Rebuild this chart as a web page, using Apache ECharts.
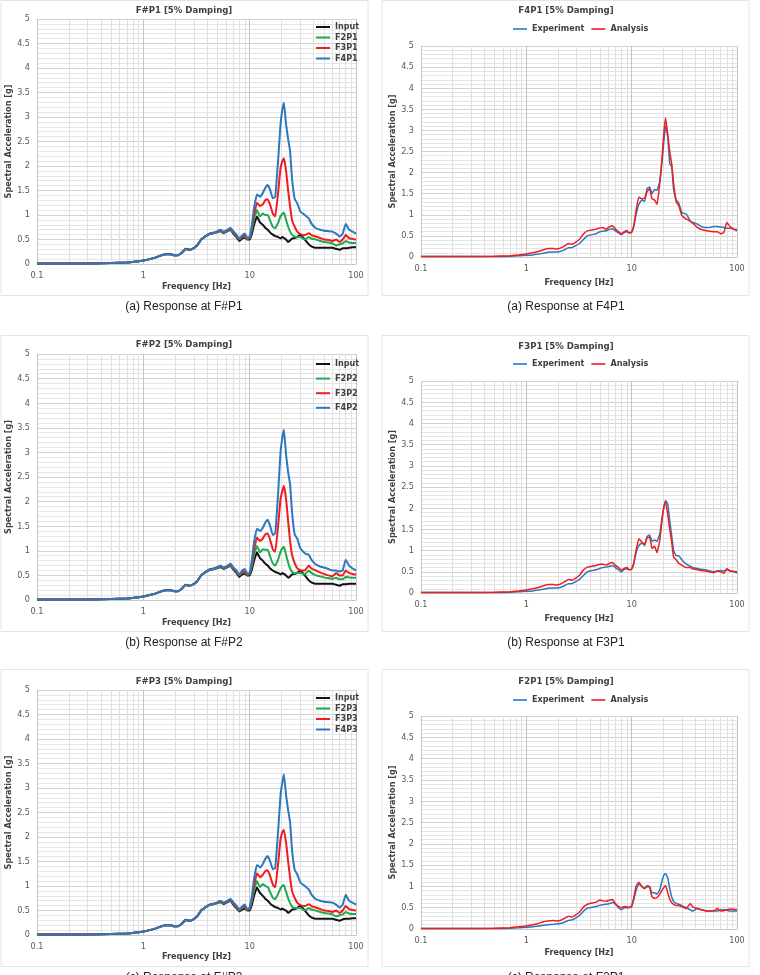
<!DOCTYPE html>
<html><head><meta charset="utf-8">
<script src="https://cdn.jsdelivr.net/npm/echarts@6/dist/echarts.min.js"></script>
<style>html,body{margin:0;padding:0;background:#fff}#c{width:760px;height:975px}</style>
</head><body><div id="c"></div>
<script>
// ---------- DATA ----------
const FREQ = [
  0.1, 0.2, 0.3, 0.5, 0.7, 0.85, 1.0, 1.15, 1.3, 1.45,
  1.6, 1.8, 1.95, 2.1, 2.3, 2.5, 2.7, 2.9, 3.2, 3.5,
  3.8, 4.2, 4.6, 5.0, 5.3, 5.7, 6.2, 6.6, 7.0, 7.5,
  8.0, 8.5, 9.0, 9.5, 10, 10.5, 11, 11.7, 12.5, 13.3,
  14, 14.8, 15.6, 16.5, 17.4, 18.5, 19.5, 20.3, 21, 22,
  23, 24, 25, 26.5, 28, 30, 33, 36, 38, 42,
  46, 50, 55, 60, 65, 70, 75, 80, 86, 93,
  100];
const MINOR_FREQ = [0.2,0.3,0.4,0.5,0.6,0.7,0.8,0.9,2,3,4,5,6,7,8,9,20,30,40,50,60,70,80,90];
const X_TICKS = ['0.1', '1', '10', '100'];

// F#P1
const P1_INPUT = [
  0.01, 0.01, 0.01, 0.02, 0.03, 0.05, 0.07, 0.1, 0.13, 0.17,
  0.2, 0.2, 0.18, 0.18, 0.23, 0.31, 0.29, 0.31, 0.38, 0.5,
  0.56, 0.61, 0.63, 0.65, 0.67, 0.63, 0.67, 0.7, 0.62, 0.55,
  0.47, 0.52, 0.54, 0.5, 0.5, 0.62, 0.8, 0.97, 0.85, 0.8,
  0.74, 0.7, 0.64, 0.6, 0.57, 0.55, 0.52, 0.55, 0.53, 0.5,
  0.45, 0.48, 0.52, 0.53, 0.55, 0.6, 0.5, 0.4, 0.36, 0.33,
  0.33, 0.33, 0.33, 0.33, 0.31, 0.29, 0.32, 0.32, 0.33, 0.34,
  0.34];
const P1_F2 = [
  0.01, 0.01, 0.01, 0.02, 0.03, 0.05, 0.07, 0.1, 0.13, 0.17,
  0.2, 0.2, 0.18, 0.18, 0.23, 0.31, 0.29, 0.31, 0.38, 0.5,
  0.56, 0.62, 0.63, 0.65, 0.68, 0.64, 0.68, 0.71, 0.64, 0.57,
  0.5, 0.55, 0.57, 0.51, 0.53, 0.7, 0.92, 1.1, 0.97, 1.03,
  1.0, 1.0, 0.88, 0.76, 0.73, 0.84, 0.97, 1.02, 1.05, 0.9,
  0.76, 0.66, 0.6, 0.56, 0.55, 0.55, 0.5, 0.55, 0.52, 0.5,
  0.47, 0.45, 0.44, 0.42, 0.38, 0.4, 0.42, 0.47, 0.44, 0.43,
  0.43];
const P1_F3 = [
  0.01, 0.01, 0.01, 0.02, 0.03, 0.05, 0.07, 0.1, 0.13, 0.17,
  0.2, 0.2, 0.18, 0.18, 0.23, 0.31, 0.29, 0.31, 0.38, 0.5,
  0.56, 0.62, 0.64, 0.66, 0.69, 0.65, 0.69, 0.72, 0.65, 0.58,
  0.51, 0.56, 0.58, 0.52, 0.54, 0.75, 1.0, 1.25, 1.18, 1.22,
  1.3, 1.32, 1.2, 1.03, 0.97, 1.45, 1.95, 2.1, 2.16, 1.9,
  1.5, 1.17, 0.9, 0.76, 0.66, 0.61, 0.59, 0.63, 0.59, 0.56,
  0.53, 0.5, 0.49, 0.47, 0.5, 0.45, 0.5, 0.59, 0.53, 0.51,
  0.5];
const P1_F4 = [
  0.01, 0.01, 0.01, 0.02, 0.03, 0.05, 0.07, 0.1, 0.13, 0.17,
  0.2, 0.2, 0.18, 0.18, 0.23, 0.31, 0.29, 0.31, 0.38, 0.5,
  0.56, 0.62, 0.64, 0.67, 0.7, 0.66, 0.7, 0.74, 0.67, 0.6,
  0.52, 0.58, 0.62, 0.53, 0.56, 0.8, 1.15, 1.42, 1.37, 1.45,
  1.55, 1.61, 1.51, 1.34, 1.37, 2.1, 2.85, 3.15, 3.29, 2.85,
  2.55, 2.3, 1.75, 1.33, 1.24, 1.07, 1.0, 0.93, 0.83, 0.73,
  0.7, 0.68, 0.67, 0.66, 0.62, 0.56, 0.62, 0.82, 0.7, 0.66,
  0.62];

// F#P2
const P2_INPUT = [
  0.01, 0.01, 0.01, 0.02, 0.03, 0.05, 0.07, 0.1, 0.13, 0.17,
  0.2, 0.2, 0.18, 0.18, 0.23, 0.31, 0.29, 0.31, 0.38, 0.5,
  0.56, 0.61, 0.63, 0.65, 0.67, 0.63, 0.67, 0.7, 0.62, 0.55,
  0.47, 0.52, 0.54, 0.5, 0.5, 0.62, 0.8, 0.97, 0.85, 0.8,
  0.74, 0.7, 0.64, 0.6, 0.57, 0.55, 0.52, 0.55, 0.53, 0.5,
  0.45, 0.48, 0.52, 0.53, 0.55, 0.6, 0.5, 0.4, 0.36, 0.33,
  0.33, 0.33, 0.33, 0.33, 0.31, 0.29, 0.32, 0.32, 0.33, 0.33,
  0.33];
const P2_F2 = [
  0.01, 0.01, 0.01, 0.02, 0.03, 0.05, 0.07, 0.1, 0.13, 0.17,
  0.2, 0.2, 0.18, 0.18, 0.23, 0.31, 0.29, 0.31, 0.38, 0.5,
  0.56, 0.62, 0.63, 0.65, 0.68, 0.64, 0.68, 0.71, 0.64, 0.57,
  0.5, 0.55, 0.57, 0.51, 0.53, 0.7, 0.92, 1.1, 0.97, 1.03,
  1.02, 1.02, 0.88, 0.74, 0.7, 0.82, 0.98, 1.05, 1.08, 0.92,
  0.76, 0.64, 0.58, 0.54, 0.55, 0.55, 0.52, 0.6, 0.55, 0.5,
  0.48, 0.46, 0.44, 0.43, 0.45, 0.42, 0.42, 0.47, 0.46, 0.45,
  0.45];
const P2_F3 = [
  0.01, 0.01, 0.01, 0.02, 0.03, 0.05, 0.07, 0.1, 0.13, 0.17,
  0.2, 0.2, 0.18, 0.18, 0.23, 0.31, 0.29, 0.31, 0.38, 0.5,
  0.56, 0.62, 0.64, 0.66, 0.69, 0.65, 0.69, 0.72, 0.65, 0.58,
  0.51, 0.56, 0.58, 0.52, 0.54, 0.75, 1.02, 1.27, 1.2, 1.25,
  1.33, 1.35, 1.22, 1.03, 0.98, 1.5, 2.05, 2.22, 2.32, 2.05,
  1.6, 1.2, 0.92, 0.75, 0.65, 0.6, 0.6, 0.7, 0.64, 0.6,
  0.56, 0.53, 0.5, 0.48, 0.55, 0.5, 0.5, 0.6, 0.55, 0.53,
  0.52];
const P2_F4 = [
  0.01, 0.01, 0.01, 0.02, 0.03, 0.05, 0.07, 0.1, 0.13, 0.17,
  0.2, 0.2, 0.18, 0.18, 0.23, 0.31, 0.29, 0.31, 0.38, 0.5,
  0.56, 0.62, 0.64, 0.67, 0.7, 0.66, 0.7, 0.74, 0.67, 0.6,
  0.52, 0.6, 0.63, 0.53, 0.56, 0.82, 1.18, 1.45, 1.4, 1.47,
  1.57, 1.63, 1.5, 1.32, 1.36, 2.15, 3.0, 3.3, 3.46, 2.95,
  2.6, 2.35, 1.8, 1.33, 1.25, 1.05, 0.95, 0.92, 0.82, 0.72,
  0.68, 0.66, 0.63, 0.6, 0.6, 0.58, 0.6, 0.82, 0.7, 0.64,
  0.6];

// F#P3
const P3_INPUT = [
  0.01, 0.01, 0.01, 0.02, 0.03, 0.05, 0.07, 0.1, 0.13, 0.17,
  0.2, 0.2, 0.18, 0.18, 0.23, 0.31, 0.29, 0.31, 0.38, 0.5,
  0.56, 0.61, 0.63, 0.65, 0.67, 0.63, 0.67, 0.7, 0.62, 0.55,
  0.48, 0.52, 0.54, 0.5, 0.5, 0.62, 0.8, 0.97, 0.86, 0.8,
  0.74, 0.7, 0.64, 0.6, 0.57, 0.55, 0.52, 0.54, 0.52, 0.5,
  0.45, 0.48, 0.52, 0.53, 0.55, 0.6, 0.5, 0.4, 0.36, 0.33,
  0.33, 0.33, 0.33, 0.33, 0.31, 0.29, 0.32, 0.33, 0.33, 0.34,
  0.34];
const P3_F2 = [
  0.01, 0.01, 0.01, 0.02, 0.03, 0.05, 0.07, 0.1, 0.13, 0.17,
  0.2, 0.2, 0.18, 0.18, 0.23, 0.31, 0.29, 0.31, 0.38, 0.5,
  0.56, 0.62, 0.63, 0.65, 0.68, 0.64, 0.68, 0.71, 0.64, 0.57,
  0.5, 0.55, 0.57, 0.51, 0.53, 0.7, 0.92, 1.1, 0.98, 1.04,
  1.0, 0.98, 0.87, 0.76, 0.73, 0.84, 0.95, 1.0, 1.02, 0.88,
  0.75, 0.65, 0.58, 0.55, 0.55, 0.55, 0.5, 0.55, 0.52, 0.5,
  0.47, 0.45, 0.44, 0.42, 0.38, 0.4, 0.42, 0.47, 0.44, 0.43,
  0.43];
const P3_F3 = [
  0.01, 0.01, 0.01, 0.02, 0.03, 0.05, 0.07, 0.1, 0.13, 0.17,
  0.2, 0.2, 0.18, 0.18, 0.23, 0.31, 0.29, 0.31, 0.38, 0.5,
  0.56, 0.62, 0.64, 0.66, 0.69, 0.65, 0.69, 0.72, 0.65, 0.58,
  0.51, 0.56, 0.58, 0.52, 0.54, 0.75, 1.0, 1.26, 1.18, 1.23,
  1.3, 1.32, 1.2, 1.03, 0.97, 1.45, 1.95, 2.1, 2.15, 1.88,
  1.5, 1.17, 0.9, 0.76, 0.66, 0.61, 0.59, 0.63, 0.59, 0.56,
  0.53, 0.5, 0.49, 0.47, 0.5, 0.45, 0.5, 0.59, 0.53, 0.51,
  0.5];
const P3_F4 = [
  0.01, 0.01, 0.01, 0.02, 0.03, 0.05, 0.07, 0.1, 0.13, 0.17,
  0.2, 0.2, 0.18, 0.18, 0.23, 0.31, 0.29, 0.31, 0.38, 0.5,
  0.56, 0.62, 0.64, 0.67, 0.7, 0.66, 0.7, 0.74, 0.67, 0.6,
  0.52, 0.58, 0.62, 0.53, 0.56, 0.8, 1.15, 1.43, 1.38, 1.45,
  1.55, 1.61, 1.5, 1.34, 1.37, 2.1, 2.85, 3.12, 3.28, 2.85,
  2.55, 2.3, 1.75, 1.33, 1.24, 1.07, 1.0, 0.93, 0.83, 0.73,
  0.7, 0.68, 0.67, 0.66, 0.62, 0.56, 0.62, 0.82, 0.7, 0.66,
  0.62];

// F4P1 comparison
const R1_EXP = [
  0.01, 0.01, 0.01, 0.01, 0.02, 0.03, 0.04, 0.05, 0.07, 0.09,
  0.11, 0.12, 0.12, 0.13, 0.17, 0.22, 0.22, 0.26, 0.32, 0.42,
  0.5, 0.53, 0.55, 0.6, 0.61, 0.62, 0.66, 0.67, 0.62, 0.57,
  0.53, 0.58, 0.6, 0.57, 0.6, 0.75, 1.0, 1.25, 1.35, 1.32,
  1.62, 1.66, 1.5, 1.6, 1.58, 1.8, 2.3, 2.8, 3.1, 2.85,
  2.2, 2.15, 1.6, 1.35, 1.28, 1.05, 1.02, 0.85, 0.82, 0.78,
  0.72, 0.7, 0.7, 0.72, 0.72, 0.71, 0.7, 0.68, 0.68, 0.66,
  0.65];
const R1_ANA = [
  0.01, 0.01, 0.01, 0.02, 0.03, 0.05, 0.07, 0.1, 0.13, 0.17,
  0.2, 0.2, 0.19, 0.21, 0.26, 0.32, 0.3, 0.34, 0.42, 0.55,
  0.62, 0.64, 0.66, 0.69, 0.7, 0.66, 0.72, 0.74, 0.67, 0.6,
  0.55, 0.6, 0.63, 0.57, 0.58, 0.75, 1.1, 1.42, 1.38, 1.4,
  1.55, 1.62, 1.38, 1.35, 1.25, 1.75, 2.4, 3.0, 3.3, 2.9,
  2.5, 2.2, 1.75, 1.3, 1.22, 0.98, 0.9, 0.85, 0.8, 0.7,
  0.65, 0.63, 0.61, 0.6, 0.6, 0.55, 0.58, 0.82, 0.72, 0.66,
  0.62];

// F3P1 comparison
const R2_EXP = [
  0.01, 0.01, 0.01, 0.01, 0.02, 0.03, 0.04, 0.05, 0.07, 0.09,
  0.11, 0.12, 0.12, 0.13, 0.17, 0.22, 0.22, 0.26, 0.32, 0.42,
  0.5, 0.53, 0.55, 0.58, 0.6, 0.61, 0.63, 0.65, 0.6, 0.55,
  0.5, 0.56, 0.57, 0.55, 0.57, 0.7, 0.95, 1.12, 1.18, 1.12,
  1.33, 1.37, 1.22, 1.25, 1.22, 1.4, 1.8, 2.05, 2.18, 2.1,
  1.7, 1.35, 1.0, 0.88, 0.88, 0.78, 0.68, 0.63, 0.6, 0.58,
  0.56, 0.55, 0.52, 0.5, 0.52, 0.53, 0.52, 0.55, 0.52, 0.5,
  0.47];
const R2_ANA = [
  0.01, 0.01, 0.01, 0.02, 0.03, 0.05, 0.07, 0.1, 0.13, 0.17,
  0.2, 0.2, 0.19, 0.21, 0.26, 0.32, 0.3, 0.34, 0.42, 0.55,
  0.61, 0.63, 0.65, 0.68, 0.68, 0.66, 0.7, 0.72, 0.65, 0.6,
  0.54, 0.58, 0.6, 0.55, 0.56, 0.72, 1.0, 1.28, 1.2, 1.15,
  1.3, 1.32, 1.05, 1.1, 0.95, 1.25, 1.75, 2.05, 2.15, 1.85,
  1.5, 1.2, 0.85, 0.78, 0.7, 0.65, 0.6, 0.6, 0.57, 0.55,
  0.53, 0.52, 0.5, 0.48, 0.52, 0.5, 0.46, 0.58, 0.52, 0.51,
  0.5];

// F2P1 comparison
const R3_EXP = [
  0.01, 0.01, 0.01, 0.01, 0.02, 0.03, 0.04, 0.05, 0.07, 0.09,
  0.1, 0.11, 0.12, 0.13, 0.16, 0.2, 0.21, 0.25, 0.32, 0.42,
  0.49, 0.51, 0.53, 0.56, 0.57, 0.58, 0.6, 0.62, 0.58, 0.5,
  0.45, 0.5, 0.5, 0.5, 0.52, 0.7, 0.9, 1.05, 1.0, 0.95,
  1.02, 1.0, 0.85, 0.85, 0.82, 0.92, 1.15, 1.27, 1.3, 1.2,
  0.95, 0.75, 0.65, 0.6, 0.58, 0.55, 0.5, 0.45, 0.42, 0.48,
  0.45, 0.43, 0.42, 0.42, 0.42, 0.45, 0.45, 0.44, 0.42, 0.42,
  0.42];
const R3_ANA = [
  0.01, 0.01, 0.01, 0.02, 0.03, 0.05, 0.07, 0.1, 0.13, 0.17,
  0.19, 0.2, 0.19, 0.2, 0.25, 0.3, 0.28, 0.32, 0.4, 0.52,
  0.58, 0.61, 0.63, 0.68, 0.66, 0.65, 0.68, 0.69, 0.6, 0.53,
  0.5, 0.53, 0.52, 0.51, 0.55, 0.75, 1.0, 1.1, 1.0, 0.95,
  1.0, 0.98, 0.75, 0.72, 0.74, 0.82, 0.92, 0.98, 1.02, 0.85,
  0.7, 0.62, 0.58, 0.55, 0.55, 0.52, 0.48, 0.6, 0.52, 0.48,
  0.45, 0.43, 0.42, 0.42, 0.48, 0.42, 0.43, 0.45, 0.47, 0.46,
  0.45];

// ---------- LAYOUT / STYLE ----------
const FONT = '"Liberation Sans Narrow", "DejaVu Sans Condensed", "Open Sans", sans-serif';
const CAP_FONT = '"Liberation Sans", Arial, sans-serif';
const C_BLUE = '#2a78bf', C_RED = '#f21c1c', C_GREEN = '#1faa4f', C_BLACK = '#111111';

const panels = [
  { grid: {left: 37, top: 19, width: 319, height: 245}, box: [1, 0.5, 367, 295],
    title: 'F#P1 [5% Damping]', tx: 184, ty: 11, caption: '(a) Response at F#P1', cy: 307,
    xGap: 18, yGap: 19, lw: 2,
    legend: {orient: 'vertical', left: 316, top: 22.5, itemGap: 1.5, itemHeight: 2},
    series: [['Input', P1_INPUT, C_BLACK], ['F2P1', P1_F2, C_GREEN], ['F3P1', P1_F3, C_RED], ['F4P1', P1_F4, C_BLUE]] },
  { grid: {left: 37, top: 354, width: 319, height: 246}, box: [1, 335.5, 367, 296],
    title: 'F#P2 [5% Damping]', tx: 184, ty: 345, caption: '(b) Response at F#P2', cy: 643,
    xGap: 18, yGap: 19, lw: 2,
    legend: {orient: 'vertical', left: 316, top: 359.5, itemGap: 5.6, itemHeight: 2},
    series: [['Input', P2_INPUT, C_BLACK], ['F2P2', P2_F2, C_GREEN], ['F3P2', P2_F3, C_RED], ['F4P2', P2_F4, C_BLUE]] },
  { grid: {left: 37, top: 690, width: 319, height: 245}, box: [1, 669.5, 367, 297],
    title: 'F#P3 [5% Damping]', tx: 184, ty: 682, caption: '(c) Response at F#P3', cy: 978,
    xGap: 17, yGap: 19, lw: 2,
    legend: {orient: 'vertical', left: 316, top: 693.5, itemGap: 1.5, itemHeight: 2},
    series: [['Input', P3_INPUT, C_BLACK], ['F2P3', P3_F2, C_GREEN], ['F3P3', P3_F3, C_RED], ['F4P3', P3_F4, C_BLUE]] },
  { grid: {left: 421, top: 46, width: 316, height: 211}, box: [382, 0.5, 367, 295],
    title: 'F4P1 [5% Damping]', tx: 566, ty: 11, caption: '(a) Response at F4P1', cy: 307,
    xGap: 21, yGap: 22, lw: 1.5,
    legend: {orient: 'horizontal', left: 513, top: 24.5, itemGap: 7, itemHeight: 1.6},
    series: [['Experiment', R1_EXP, C_BLUE], ['Analysis', R1_ANA, C_RED]] },
  { grid: {left: 421, top: 381, width: 316, height: 212}, box: [382, 335.5, 367, 296],
    title: 'F3P1 [5% Damping]', tx: 566, ty: 347, caption: '(b) Response at F3P1', cy: 643,
    xGap: 21, yGap: 22, lw: 1.5,
    legend: {orient: 'horizontal', left: 513, top: 359.5, itemGap: 7, itemHeight: 1.6},
    series: [['Experiment', R2_EXP, C_BLUE], ['Analysis', R2_ANA, C_RED]] },
  { grid: {left: 421, top: 716, width: 316, height: 213}, box: [382, 669.5, 367, 297],
    title: 'F2P1 [5% Damping]', tx: 566, ty: 682, caption: '(c) Response at F2P1', cy: 978,
    xGap: 19, yGap: 22, lw: 1.5,
    legend: {orient: 'horizontal', left: 513, top: 695.5, itemGap: 7, itemHeight: 1.6},
    series: [['Experiment', R3_EXP, C_BLUE], ['Analysis', R3_ANA, C_RED]] }
];

const option = {
  animation: false,
  backgroundColor: '#ffffff',
  grid: [], xAxis: [], yAxis: [], series: [], legend: [], graphic: []
};

function txt(x, y, text, font, size, weight, color) {
  return { type: 'text', x: x, y: y, silent: true, z: 10,
    style: { text: text, fontFamily: font, fontSize: size, fontWeight: weight, fill: color,
      align: 'center', verticalAlign: 'middle', textAlign: 'center', textVerticalAlign: 'middle' } };
}

panels.forEach((p, i) => {
  option.grid.push(Object.assign({ containLabel: false }, p.grid));
  option.graphic.push({ type: 'rect', silent: true, z: -10,
    shape: { x: p.box[0], y: p.box[1], width: p.box[2], height: p.box[3] },
    style: { fill: '#ffffff', stroke: '#e4e4e4', lineWidth: 1 } });
  option.graphic.push(txt(p.tx, p.ty, p.title, FONT, 9.5, 'bold', '#404040'));
  option.graphic.push(txt(p.tx, p.cy, p.caption, CAP_FONT, 12, 'normal', '#222222'));

  option.xAxis.push({
    type: 'log', logBase: 10, min: 0.1, max: 100, gridIndex: i,
    axisLine: { show: true, lineStyle: { color: '#c8c8c8', width: 1 } },
    axisTick: { show: false },
    splitLine: { show: true, lineStyle: { color: '#c4c4c4', width: 1 } },
    axisLabel: { color: '#595959', fontSize: 9, fontFamily: FONT, margin: 7,
      formatter: v => { const s = String(parseFloat(Number(v).toPrecision(3))); return X_TICKS.indexOf(s) >= 0 ? s : ''; } },
    name: 'Frequency [Hz]', nameLocation: 'middle', nameGap: p.xGap,
    nameTextStyle: { fontWeight: 'bold', fontSize: 9, color: '#404040', fontFamily: FONT }
  });
  option.yAxis.push({
    type: 'value', min: 0, max: 5, interval: 0.5, gridIndex: i,
    axisLine: { show: false }, axisTick: { show: false },
    splitLine: { show: true, lineStyle: { color: '#d2d2d2', width: 1 } },
    minorTick: { show: false, splitNumber: 5 },
    minorSplitLine: { show: true, lineStyle: { color: '#e6e6e6', width: 1 } },
    axisLabel: { color: '#595959', fontSize: 9, fontFamily: FONT, margin: 7 },
    name: 'Spectral Acceleration [g]', nameLocation: 'middle', nameGap: p.yGap, nameRotate: 90,
    nameTextStyle: { fontWeight: 'bold', fontSize: 9, color: '#404040', fontFamily: FONT }
  });
  // minor vertical grid lines (2..9 within each decade), kept below the data lines
  option.series.push({
    type: 'line', xAxisIndex: i, yAxisIndex: i, data: [], silent: true, z: 1,
    markLine: { silent: true, z: 1, symbol: ['none', 'none'], animation: false,
      label: { show: false }, emphasis: { disabled: true },
      lineStyle: { color: '#e0e0e0', width: 1, type: 'solid' },
      data: MINOR_FREQ.map(f => ({ xAxis: f })) }
  });
  p.series.forEach(([name, vals, color]) => {
    option.series.push({
      type: 'line', name: name, xAxisIndex: i, yAxisIndex: i, z: 3,
      data: FREQ.map((f, k) => [f, vals[k]]),
      showSymbol: false, symbol: 'none', smooth: 0.1,
      lineStyle: { color: color, width: p.lw }, itemStyle: { color: color },
      emphasis: { disabled: true }
    });
  });
  option.legend.push(Object.assign({
    data: p.series.map(s => ({ name: s[0], icon: 'rect' })), itemWidth: 14, selectedMode: false,
    padding: 0, z: 20,
    textStyle: { fontSize: 9, fontWeight: 'bold', color: '#404040', fontFamily: FONT }
  }, p.legend));
});

const chart = echarts.init(document.getElementById('c'), null, { renderer: 'canvas', width: 760, height: 975 });
chart.setOption(option);
</script>
</body></html>
